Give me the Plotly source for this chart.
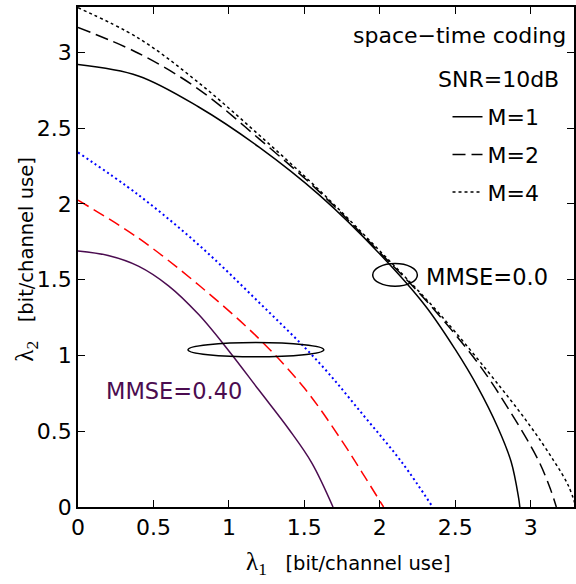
import plotly.graph_objects as go

# ---------------- data ----------------
m1_x = [0, 0.4, 0.8, 1.2, 1.6, 2.0, 2.3, 2.5, 2.65, 2.78, 2.87, 2.92, 2.928]
m1_y = [2.92, 2.845, 2.64, 2.375, 2.058, 1.67, 1.33, 1.04, 0.79, 0.53, 0.30, 0.06, 0]

m2_x = [0, 0.4, 0.8, 1.2, 1.6, 2.0, 2.3, 2.65, 2.87, 3.05, 3.13, 3.17]
m2_y = [3.165, 2.995, 2.757, 2.43, 2.08, 1.68, 1.37, 0.95, 0.62, 0.31, 0.12, 0]

m4_x = [0, 0.4, 0.8, 1.2, 1.6, 2.0, 2.4, 2.8, 3.0, 3.15, 3.25, 3.30]
m4_y = [3.295, 3.095, 2.80, 2.455, 2.09, 1.69, 1.27, 0.79, 0.53, 0.31, 0.14, 0]

blue_x = [0, 0.4, 0.8, 1.2, 1.6, 1.9, 2.15, 2.35]
blue_y = [2.34, 2.06, 1.73, 1.35, 0.95, 0.595, 0.29, 0]

red_x = [0, 0.4, 0.8, 1.2, 1.5, 1.75, 1.9, 2.025]
red_y = [2.025, 1.775, 1.465, 1.11, 0.785, 0.435, 0.20, 0]

purple_x = [0, 0.2, 0.4, 0.6, 0.8, 1.0, 1.2, 1.4, 1.55, 1.69]
purple_y = [1.69, 1.66, 1.59, 1.46, 1.27, 1.03, 0.77, 0.51, 0.29, 0]

legend_names = ["M=1", "M=2", "M=4"]
x_ticks = [0, 0.5, 1, 1.5, 2, 2.5, 3]
y_ticks = [0, 0.5, 1, 1.5, 2, 2.5, 3]

# ellipses: (center x, center y, half width, half height)
ell_040 = (1.179, 1.038, 0.45, 0.047)
ell_00 = (2.101, 1.532, 0.148, 0.075)

FONT = "DejaVu Sans"
PURPLE = "#4b0c50"

fig = go.Figure()
fig.add_trace(go.Scatter(x=purple_x, y=purple_y, mode="lines", line=dict(color=PURPLE, width=1.5, shape="spline"), showlegend=False))
fig.add_trace(go.Scatter(x=red_x, y=red_y, mode="lines", line=dict(color="#ff0000", width=1.5, dash="12px,6px", shape="spline"), showlegend=False))
fig.add_trace(go.Scatter(x=blue_x, y=blue_y, mode="lines", line=dict(color="#0000ff", width=2, dash="2px,3px", shape="spline"), showlegend=False))
fig.add_trace(go.Scatter(x=m1_x, y=m1_y, mode="lines", name=legend_names[0], legendgroup="a",
                         line=dict(color="black", width=1.5, shape="spline")))
fig.add_trace(go.Scatter(x=m2_x, y=m2_y, mode="lines", name=legend_names[1], legendgroup="b",
                         line=dict(color="black", width=1.5, dash="13px,6px", shape="spline")))
fig.add_trace(go.Scatter(x=m4_x, y=m4_y, mode="lines", name=legend_names[2], legendgroup="c",
                         line=dict(color="black", width=1.5, dash="3px,3px", shape="spline")))

for cx, cy, a, b in (ell_040, ell_00):
    fig.add_shape(type="circle", xref="x", yref="y", x0=cx - a, x1=cx + a, y0=cy - b, y1=cy + b,
                  line=dict(color="black", width=1.5))

axis_common = dict(
    showline=True, linecolor="black", linewidth=1.8, mirror="ticks",
    ticks="inside", ticklen=7, tickwidth=1.2, tickcolor="black",
    showgrid=False, zeroline=False,
    tickfont=dict(family=FONT, size=22, color="black"),
)

fig.update_xaxes(range=[0, 3.287], tickvals=x_ticks, ticktext=[f"{v:g}" for v in x_ticks], **axis_common)
fig.update_yaxes(range=[0, 3.3], tickvals=y_ticks, ticktext=[f"{v:g}" for v in y_ticks], **axis_common)

lam = "font-family:Liberation Serif;font-size:25px"
fig.add_annotation(xref="paper", yref="paper", x=(245 - 78) / 498, y=-0.112, xanchor="left", yanchor="middle",
                   text=f"<span style='{lam}'>λ<sub>1</sub></span>\u00a0\u00a0\u00a0[bit/channel use]",
                   showarrow=False, font=dict(family=FONT, size=19.5, color="black"))
fig.add_annotation(xref="paper", yref="paper", x=-0.1044, y=(507 - 364) / 500, xanchor="center", yanchor="bottom",
                   textangle=-90,
                   text=f"<span style='{lam}'>λ<sub>2</sub></span>\u00a0\u00a0\u00a0[bit/channel use]",
                   showarrow=False, font=dict(family=FONT, size=19.5, color="black"))

fig.add_annotation(xref="paper", yref="paper", x=(570 - 78) / 498, y=(507 - 35) / 500, xanchor="right", yanchor="middle",
                   text="space\u2212time coding", showarrow=False, font=dict(family=FONT, size=22, color="black"))
fig.add_annotation(xref="paper", yref="paper", x=(563 - 78) / 498, y=(507 - 79.5) / 500, xanchor="right", yanchor="middle",
                   text="SNR=10dB", showarrow=False, font=dict(family=FONT, size=22, color="black"))
fig.add_annotation(xref="x", yref="y", x=2.29, y=1.52, xanchor="left", yanchor="middle",
                   text="MMSE=0.0", showarrow=False, font=dict(family=FONT, size=22.5, color="black"))
fig.add_annotation(xref="x", yref="y", x=0.172, y=0.766, xanchor="left", yanchor="middle",
                   text="MMSE=0.40", showarrow=False, font=dict(family=FONT, size=22.5, color=PURPLE))

fig.update_layout(
    width=576, height=584,
    margin=dict(l=78, r=0, t=7, b=77),
    plot_bgcolor="white", paper_bgcolor="white",
    font=dict(family=FONT, size=22, color="black"),
    legend=dict(x=(449 - 78) / 498, y=(507 - 96) / 500, xanchor="left", yanchor="top",
                bgcolor="rgba(0,0,0,0)", borderwidth=0, itemwidth=30, tracegroupgap=6,
                font=dict(family=FONT, size=22, color="black")),
)

fig.write_html("out.html")
